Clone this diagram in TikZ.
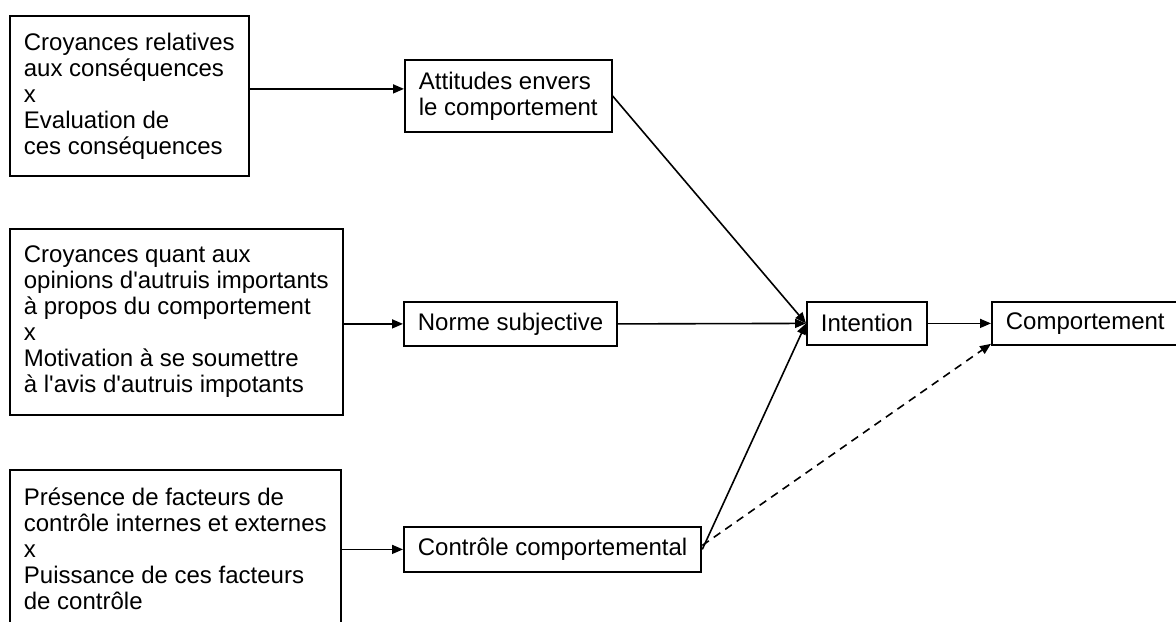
\documentclass[tikz,border=0pt]{standalone}
\usepackage{fontspec}
\setmainfont{Liberation Sans}[Ligatures=TeXOff]
\usetikzlibrary{arrows.meta}

\begin{document}
\begin{tikzpicture}
[x=0.5pt, y=-0.5pt, font=\fontsize{12}{13}\selectfont,
       box/.style={draw, line width=0.9pt, inner xsep=7pt, inner ysep=2pt, align=left, anchor=north west},
       arr/.style={-{Triangle[length=5.5pt,width=4.5pt]}, line width=0.8pt}]
  \useasboundingbox (0,0) rectangle (1176,621);
  \clip (0,0) rectangle (1176,621);
  % croyances (left column)
  \node[box, minimum height=80pt] (cons) at (9,15)
     {Croyances relatives\\aux conséquences\\x\\Evaluation de\\ces conséquences};
  \node[box, minimum height=93pt] (opin) at (9,228)
     {Croyances quant aux\\opinions d'autruis importants\\à propos du comportement\\x\\Motivation à se soumettre\\à l'avis d'autruis impotants};
  \node[box, minimum height=78.5pt] (fact) at (9,469)
     {Présence de facteurs de\\contrôle internes et externes\\x\\Puissance de ces facteurs\\de contrôle};
  % middle column
  \node[box, minimum height=36pt] (att) at (404,59) {Attitudes envers\\le comportement};
  \node[box, minimum height=22pt] (norme) at (403,301) {Norme subjective};
  \node[box, minimum height=22.5pt] (ctrl) at (403,526) {Contrôle comportemental};
  % right
  \node[box, minimum height=21.5pt] (inten) at (806,301) {Intention};
  \node[box, minimum height=21.5pt] (comp) at (991,301) {Comportement};

  \draw[arr] ([yshift=3.5pt]cons.east) -- ([yshift=3.5pt]att.west);
  \draw[arr] (opin.east |- norme.west) -- (norme.west);
  \draw[arr] (fact.east |- ctrl.west) -- (ctrl.west);
  \draw[arr] (att.east) -- (inten.west);
  \draw[arr] (norme.east) -- (inten.west);
  \draw[arr] (ctrl.east) -- (inten.west);
  \draw[arr] (inten.east) -- (comp.west);
  \draw[arr, dash pattern=on 4pt off 3pt] ([yshift=2pt]ctrl.east) -- ([yshift=1pt]comp.south west);
\end{tikzpicture}
\end{document}
